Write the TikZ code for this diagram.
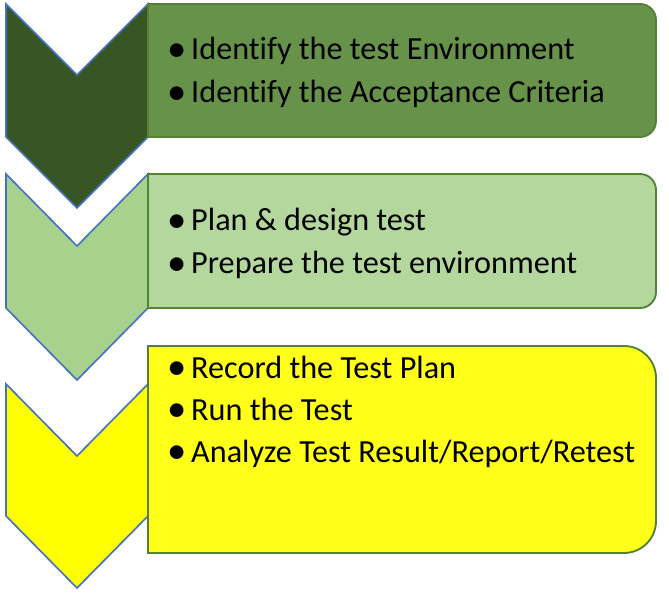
\documentclass[tikz,border=0pt]{standalone}
\usepackage{fontspec}
\setmainfont{Carlito}[Ligatures=NoCommon]
\usetikzlibrary{positioning}
\definecolor{chevblue}{HTML}{4472C4}
\definecolor{boxline}{HTML}{548235}
\definecolor{chevA}{HTML}{375623}
\definecolor{boxA}{HTML}{67924A}
\definecolor{chevB}{HTML}{A9D18E}
\definecolor{boxB}{HTML}{B3D79C}
\definecolor{chevC}{HTML}{FFFF00}
\definecolor{boxC}{HTML}{FFFF19}
\newcommand{\bul}{\makebox[0.72cm][l]{\raisebox{-1.5pt}{\fontsize{33}{33}\selectfont\textbullet}}}

\begin{document}
\begin{tikzpicture}[x=0.03cm,y=-0.03cm]
\tikzstyle{chev}=[draw=chevblue,line width=1.4pt,line join=miter]
\tikzstyle{box}=[draw=boxline,line width=1.6pt]
\tikzstyle{item}=[anchor=base west,inner sep=0pt,font=\fontsize{27.5}{34}\selectfont]
\useasboundingbox (0,0) rectangle (669,595);
% step 1
\draw[chev,fill=chevA] (6,4) -- (77,75) -- (148,4) -- (148,137) -- (77,208) -- (6,137) -- cycle;
\draw[box,fill=boxA] (148,4) -- (640,4) arc[start angle=-90,end angle=0,radius=16]
  -- (656,121) arc[start angle=0,end angle=90,radius=16] -- (148,137) -- cycle;
% step 2
\draw[chev,fill=chevB] (6,174) -- (77,246) -- (148,174) -- (148,308) -- (77,380) -- (6,308) -- cycle;
\draw[box,fill=boxB] (148,174) -- (640,174) arc[start angle=-90,end angle=0,radius=16]
  -- (656,292) arc[start angle=0,end angle=90,radius=16] -- (148,308) -- cycle;
% step 3
\draw[chev,fill=chevC] (6,384) -- (77,456) -- (148,384) -- (148,516) -- (77,588) -- (6,516) -- cycle;
\draw[box,fill=boxC] (148,346) -- (624,346) arc[start angle=-90,end angle=0,radius=32]
  -- (656,521) arc[start angle=0,end angle=90,radius=32] -- (148,553) -- cycle;
% bullet texts
\foreach \y/\t/\n in {60/{Identify the test Environment}/idenv,103/{Identify the Acceptance Criteria}/idacc,
  231/{Plan \& design test}/plan,274/{Prepare the test environment}/prep,
  378/{Record the Test Plan}/rec,420/{Run the Test}/run,462/{Analyze Test Result/Report/Retest}/ana}
  \node[item] (\n) at (167,\y) {\bul\t};
\end{tikzpicture}
\end{document}
